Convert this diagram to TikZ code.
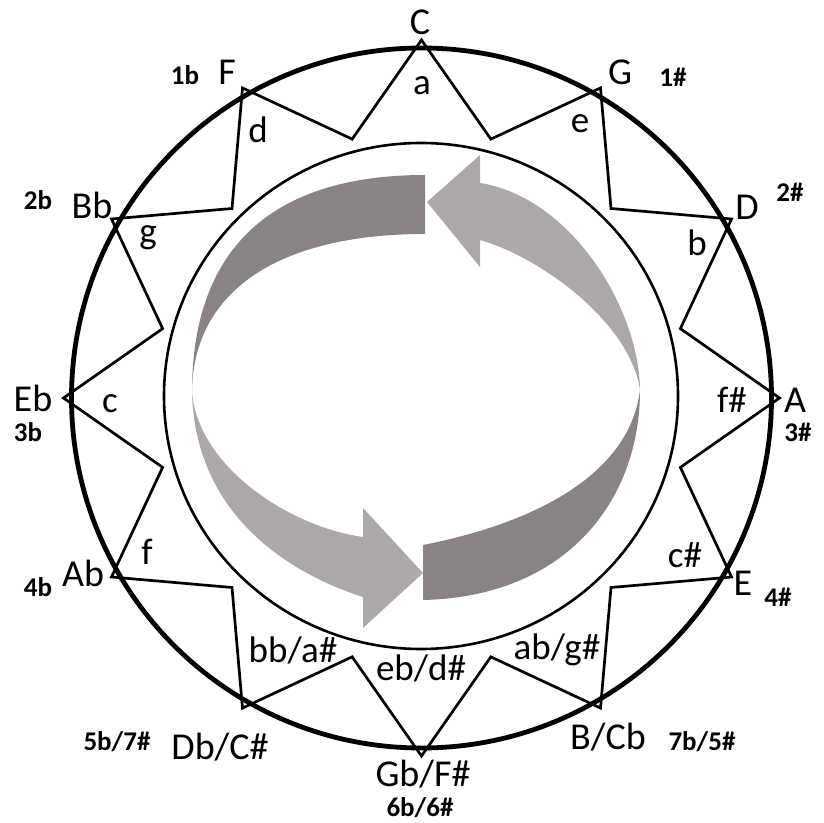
\documentclass[tikz,border=0pt]{standalone}
\usepackage{fontspec}
\setmainfont{Carlito}
\definecolor{darkband}{RGB}{137,132,131}
\definecolor{lightband}{RGB}{172,168,167}
\tikzset{
  note/.style={font=\fontsize{38}{38}\selectfont, inner sep=0pt},
  minor/.style={font=\fontsize{37}{37}\selectfont, inner sep=0pt},
  sig/.style={font=\fontsize{27}{27}\selectfont\bfseries, inner sep=0pt},
  starline/.style={line width=2.7pt, line join=miter},
  ring/.style={line width=4.8pt},
  innerring/.style={line width=2.6pt},
}
\begin{document}
\begin{tikzpicture}[x=1pt,y=1pt]
\useasboundingbox (0,0) rectangle (824,822);
\coordinate (o) at (421.5,424);
\coordinate (oi) at (421,426);
% arrows
\coordinate (lt) at (192,430);
\coordinate (rt) at (640,432);
\fill[darkband] (lt) .. controls (192,572) and (270,647) .. (425,647) -- (425,588)
  .. controls (280,588) and (193,532) .. (lt) -- cycle;
\fill[lightband] (rt) .. controls (639,515) and (570,625) .. (480,639) -- (480,667) -- (427,620)
  -- (480,555) -- (480,582) .. controls (540,565) and (630,500) .. (rt) -- cycle;
\fill[lightband] (lt) .. controls (195,300) and (300,245) .. (363,225) -- (363,194) -- (423,249)
  -- (363,314) -- (363,285) .. controls (290,295) and (198,355) .. (lt) -- cycle;
\fill[darkband] (423,277) .. controls (540,300) and (630,350) .. (rt)
  .. controls (640,320) and (565,225) .. (423,222) -- cycle;
% circles
\draw[innerring] (oi) ellipse [x radius=257, y radius=253];
\draw[ring] (o) circle [radius=350];
\draw[starline, shift={(o)}] (90:358)
  \foreach \k in {0,...,11} { -- ({75-30*\k}:268) -- ({60-30*\k}:358) } -- cycle;
% major keys
\node[note] (nC) at (420,800) {C};
\node[note] (nG) at (620,750) {G};
\node[note] (nD) at (747,615) {D};
\node[note] (nA) at (795,422) {A};
\node[note] (nE) at (743,239) {E};
\node[note] (nB) at (608,85) {B/Cb};
\node[note, anchor=base, text depth=3pt] (nGb) at (423,36) {Gb/F\#};
\node[note] (nDb) at (220,75) {Db/C\#};
\node[note] (nAb) at (83,249) {Ab};
\node[note] (nEb) at (33,424) {Eb};
\node[note] (nBb) at (92,617) {Bb};
\node[note] (nF) at (227,750) {F};
% minor keys
\node[minor] (ma) at (422,736) {a};
\node[minor] (me) at (580,698) {e};
\node[minor] (mb) at (697,579) {b};
\node[minor] (mfs) at (732,422) {f\#};
\node[minor] (mcs) at (685,267) {c\#};
\node[minor] (mab) at (557,172) {ab/g\#};
\node[minor] (meb) at (421,154) {eb/d\#};
\node[minor] (mbb) at (293,172) {bb/a\#};
\node[minor] (mf) at (147,270) {f};
\node[minor] (mc) at (110,418) {c};
\node[minor] (mg) at (148,584) {g};
\node[minor] (md) at (258,692) {d};
% signatures
\node[sig] (s1s) at (673,745) {1\#};
\node[sig] (s2s) at (790,630) {2\#};
\node[sig] (s3s) at (798,390) {3\#};
\node[sig] (s4s) at (778,225) {4\#};
\node[sig] (s5s) at (702,80) {7b/5\#};
\node[sig, anchor=base, text height=19pt] (s6) at (420,6) {6b/6\#};
\node[sig] (s7s) at (117,80) {5b/7\#};
\node[sig] (s4b) at (38,235) {4b};
\node[sig] (s3b) at (28,390) {3b};
\node[sig] (s2b) at (38,622) {2b};
\node[sig] (s1b) at (185,747) {1b};
\end{tikzpicture}
\end{document}
